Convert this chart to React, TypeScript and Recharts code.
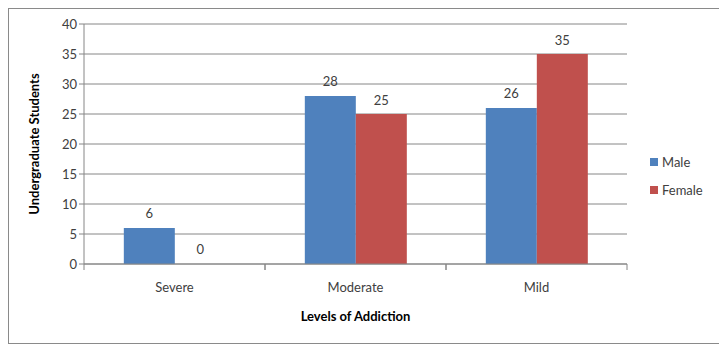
import React from 'react';
import { BarChart, Bar, XAxis, YAxis, CartesianGrid, LabelList, Rectangle } from 'recharts';

const categories = ['Severe', 'Moderate', 'Mild'];
const maleValues = [6, 28, 26];
const femaleValues = [0, 25, 35];
const yTicks = [0, 5, 10, 15, 20, 25, 30, 35, 40];

const data = categories.map((c, i) => ({ name: c, Male: maleValues[i], Female: femaleValues[i] }));

const FONT = 'Lato, "Open Sans", sans-serif';
const TEXT = '#404040';
const AXIS = '#868686';
const MALE = '#4F81BD';
const FEMALE = '#C0504D';

const CatTick = (props: any) => {
  const { x, y, payload } = props;
  const half = 181 / 2;
  return (
    <g>
      <line x1={x - half} x2={x - half} y1={y - 8} y2={y - 2} stroke={AXIS} />
      <line x1={x + half} x2={x + half} y1={y - 8} y2={y - 2} stroke={AXIS} />
      <text x={x} y={y + 20} textAnchor="middle" fill={TEXT} fontSize={13} fontFamily={FONT}>
        {payload.value}
      </text>
    </g>
  );
};

const BarShape = (props: any) => {
  const v = props.value ?? (props.payload ? props.payload[props.dataKey] : undefined);
  if (v === 0) return null;
  return <Rectangle {...props} />;
};

const legendItems: [string, string][] = [['Male', MALE], ['Female', FEMALE]];

export default function App() {
  return (
    <div style={{ position: 'relative', width: 711, height: 334, border: '1px solid #8a8a8a', background: '#fff' }}>
      <BarChart
        width={711}
        height={334}
        data={data}
        margin={{ top: 15, right: 93, bottom: 0, left: 0 }}
        barCategoryGap="22%"
        barGap={0}
      >
        <CartesianGrid vertical={false} stroke={AXIS} />
        <XAxis
          dataKey="name"
          stroke={AXIS}
          tickLine={false}
          height={79}
          tick={<CatTick />}
          interval={0}
          label={() => (
            <text x={346.5} y={312} textAnchor="middle" fill="#000" fontSize={13} fontWeight="bold" fontFamily={FONT}>
              Levels of  Addiction
            </text>
          )}
        />
        <YAxis
          width={75}
          domain={[0, 40]}
          ticks={yTicks}
          stroke={AXIS}
          tickSize={5}
          tick={{ fill: TEXT, fontSize: 13, fontFamily: FONT }}
          interval={0}
          label={() => (
            <text x={30} y={135} textAnchor="middle" fill="#000" fontSize={13} fontWeight="bold" fontFamily={FONT} transform="rotate(-90 30 135)">
              Undergraduate Students
            </text>
          )}
        />
        <Bar dataKey="Male" fill={MALE} isAnimationActive={false}>
          <LabelList dataKey="Male" position="top" offset={10} fill={TEXT} fontSize={13} fontFamily={FONT} />
        </Bar>
        <Bar dataKey="Female" fill={FEMALE} isAnimationActive={false} minPointSize={1} shape={<BarShape dataKey="Female" />}>
          <LabelList dataKey="Female" position="top" offset={9} fill={TEXT} fontSize={13} fontFamily={FONT} />
        </Bar>
      </BarChart>
      <div style={{ position: 'absolute', left: 641, top: 139, fontFamily: FONT, fontSize: 13, color: TEXT }}>
        {legendItems.map(([n, c]) => (
          <div key={n} style={{ display: 'flex', alignItems: 'center', height: 28 }}>
            <span style={{ width: 8, height: 8, background: c, display: 'inline-block', marginRight: 4 }} />
            <span>{n}</span>
          </div>
        ))}
      </div>
    </div>
  );
}
